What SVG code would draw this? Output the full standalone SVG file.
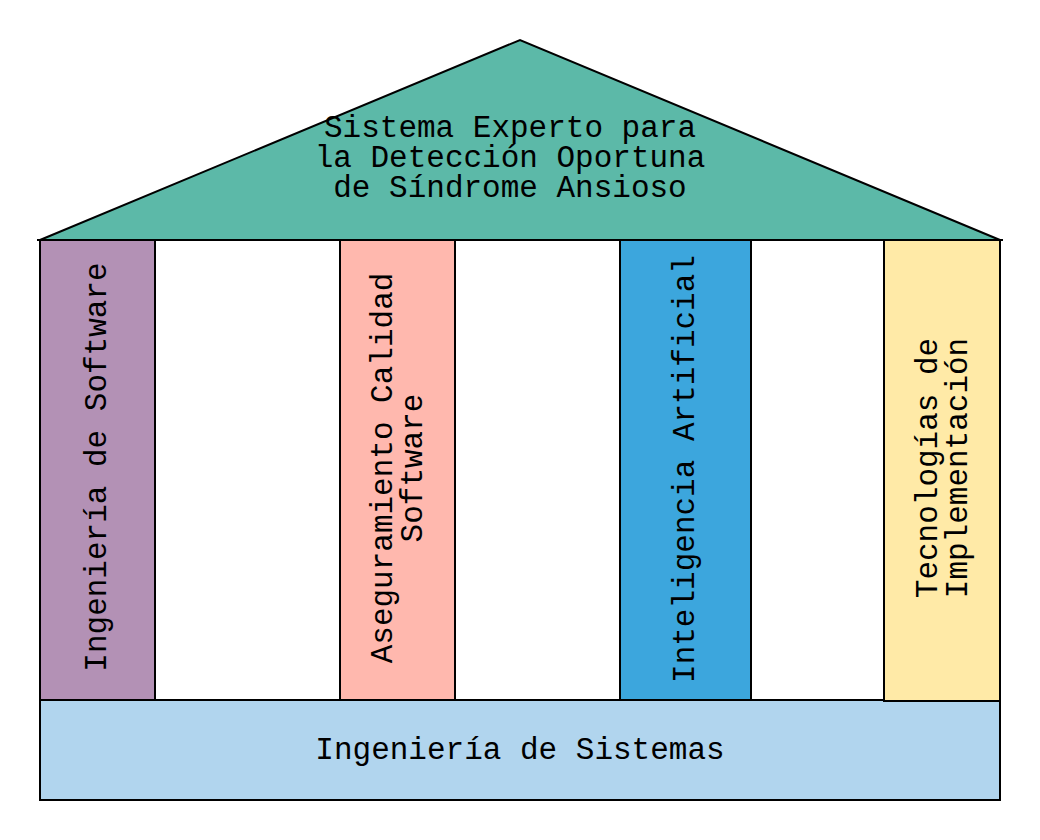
<svg xmlns="http://www.w3.org/2000/svg" width="1040" height="840" viewBox="0 0 1040 840">
<style>
.s{stroke:#000;stroke-width:2}
.t{font-family:"Liberation Mono",monospace;font-size:31px;fill:#000;text-anchor:middle}
</style>
<rect width="1040" height="840" fill="#fff"/>
<g id="roof">
<polygon class="s" points="40,240 520,40 1000,240" fill="#5cb9a8"/>
<line class="s" x1="37" y1="240" x2="1003" y2="240"/>
<text class="t" x="510" y="137">Sistema Experto para</text>
<text class="t" x="510" y="167">la Detección Oportuna</text>
<text class="t" x="510" y="197">de Síndrome Ansioso</text>
</g>
<g id="base">
<rect class="s" x="40" y="700" width="960" height="100" fill="#b1d5ee"/>
<text class="t" x="520" y="759">Ingeniería de Sistemas</text>
</g>
<g id="pillar-software">
<rect class="s" x="40" y="240" width="115" height="460" fill="#b391b5"/>
<text class="t" transform="translate(106,467) rotate(-90)">Ingeniería de Software</text>
</g>
<g id="pillar-calidad">
<rect class="s" x="340" y="240" width="115" height="460" fill="#ffb8ae"/>
<text class="t" transform="translate(392,468) rotate(-90)">Aseguramiento Calidad</text>
<text class="t" transform="translate(422,468) rotate(-90)">Software</text>
</g>
<g id="pillar-ia">
<rect class="s" x="620" y="240" width="131" height="460" fill="#3ca6dd"/>
<text class="t" transform="translate(694,469) rotate(-90)">Inteligencia Artificial</text>
</g>
<g id="pillar-tecnologias">
<rect class="s" x="884" y="240" width="116" height="461" fill="#ffeaa7"/>
<text class="t" transform="translate(937,468) rotate(-90)">Tecnologías de</text>
<text class="t" transform="translate(967,468) rotate(-90)">Implementación</text>
</g>
<g id="connectors"></g>
</svg>
